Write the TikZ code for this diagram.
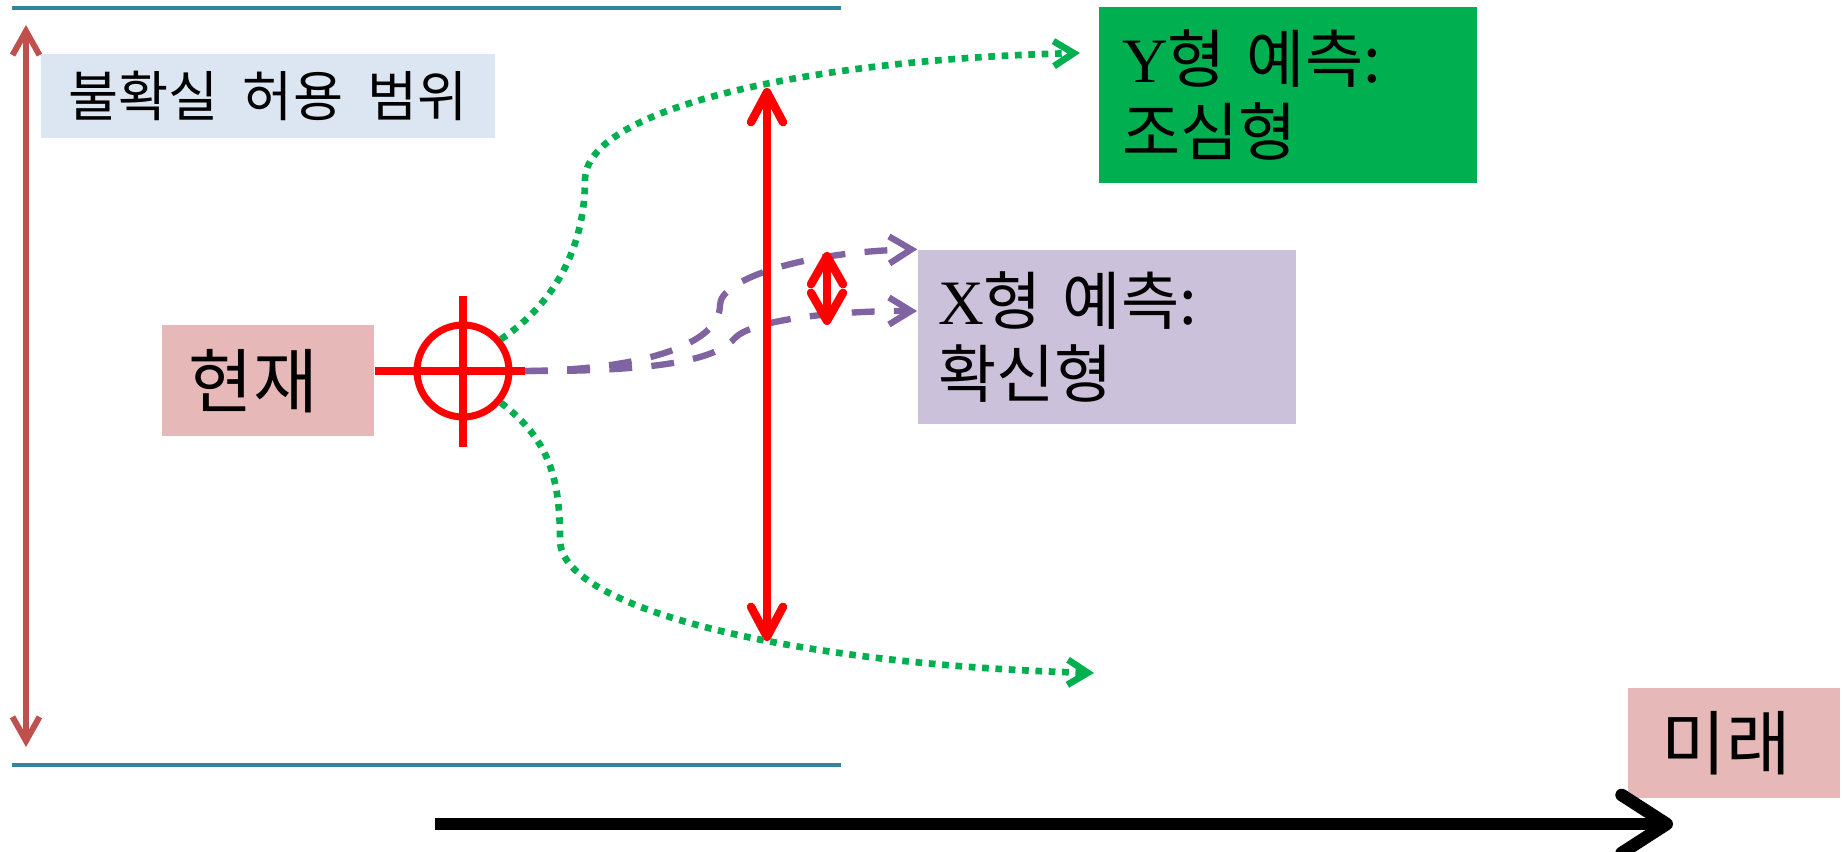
\documentclass[tikz,border=0pt]{standalone}
\usepackage{fontspec}
\setmainfont{Liberation Serif}
\newfontfamily\kr{Noto Sans CJK KR}[WordSpace=2]
\usepackage{tikz}
\usetikzlibrary{arrows.meta}
\definecolor{bandteal}{HTML}{31859C}
\definecolor{bandbrown}{HTML}{C0504D}
\definecolor{paleblue}{HTML}{DCE6F2}
\definecolor{palepink}{HTML}{E6B9B8}
\definecolor{ygreen}{HTML}{00B050}
\definecolor{xlilac}{HTML}{CCC1DA}
\definecolor{xpurple}{HTML}{8064A2}

\tikzset{
  panel/.style={inner sep=0pt,text=black},
  redline/.style={draw=red,line width=2pt},
  ypath/.style={draw=ygreen,line width=1.9pt,dash pattern=on 1.9pt off 1.9pt,-{Straight Barb[length=0.2cm,width=0.25cm]}},
  xpath/.style={draw=xpurple,line width=1.8pt,dash pattern=on 6.5pt off 5.5pt,-{Straight Barb[length=0.22cm,width=0.27cm]}}
}

\begin{document}
\begin{tikzpicture}[x=0.1mm,y=-0.1mm]
  \useasboundingbox (0,0) rectangle (1845,852);
  % band of tolerated uncertainty
  \draw[bandteal,line width=1.3pt] (12,8) -- (841,8);
  \draw[bandteal,line width=1.3pt] (12,765) -- (841,765);
  \coordinate (bandtop) at (26,25);
  \coordinate (bandbot) at (26,747);
  \draw[bandbrown,line width=1.7pt,{Straight Barb[length=0.24cm,width=0.27cm]}-{Straight Barb[length=0.24cm,width=0.27cm]}] (bandtop) -- (bandbot);
  \node[panel,fill=paleblue,minimum width=4.54cm,minimum height=0.84cm,font=\kr\fontsize{15.5}{18}\selectfont] (band) at (268,96) {불확실 허용 범위};

  % present and target
  \node[panel,fill=palepink,minimum width=2.12cm,minimum height=1.11cm,font=\kr\fontsize{20}{24}\selectfont] (now) at (268,381) {\hspace*{-0.3cm}현재};
  \node[draw=red,circle,line width=2pt,minimum size=0.92cm,inner sep=0pt] (target) at (463,371) {};
  \coordinate (hend) at (525,371);
  \draw[redline] (now.east |- target.center) -- (hend);
  \draw[redline] (463,296) -- (463,447);

  % forecasts
  \node[panel,fill=ygreen,minimum width=3.78cm,minimum height=1.76cm,text width=3.32cm,align=left,font=\kr\fontsize{18}{21}\selectfont] (ybox) at (1288,95) {{\rmfamily Y}형 예측:\\조심형};
  \node[panel,fill=xlilac,minimum width=3.78cm,minimum height=1.74cm,text width=3.38cm,align=left,font=\kr\fontsize{18}{21}\selectfont] (xbox) at (1107,337) {{\rmfamily X}형 예측:\\확신형};

  \coordinate (xlo) at (917,311);
  \draw[xpath] (hend) .. controls (640,370) and (720,345) .. (720,305) .. controls (720,280) and (800,252) .. (xbox.north west);
  \draw[xpath] (hend) .. controls (680,372) and (720,355) .. (735,338) .. controls (750,322) and (820,311) .. (xlo);

  \coordinate (spreadtop) at (767,88);
  \coordinate (spreadbot) at (767,641);
  \draw[red,line width=2.4pt,{Straight Barb[round,length=0.3cm,width=0.32cm]}-{Straight Barb[round,length=0.3cm,width=0.32cm]}] (spreadtop) -- (spreadbot);
  \coordinate (narrowtop) at (827,252);
  \coordinate (narrowbot) at (827,325);
  \draw[red,line width=2.4pt,{Straight Barb[round,length=0.28cm,width=0.32cm]}-{Straight Barb[round,length=0.28cm,width=0.32cm]}] (narrowtop) -- (narrowbot);

  \coordinate (yhi) at (1080,53);
  \coordinate (ylo) at (1094,673);
  \draw[ypath] (target.40) .. controls (560,300) and (585,240) .. (585,180) .. controls (585,110) and (800,60) .. (yhi);
  \draw[ypath] (target.-40) .. controls (550,440) and (560,480) .. (560,540) .. controls (560,610) and (800,665) .. (ylo);

  % future
  \node[panel,fill=palepink,minimum width=2.12cm,minimum height=1.10cm,font=\kr\fontsize{20}{24}\selectfont] (future) at (1734,743) {\hspace*{-0.15cm}미래};
  \coordinate (timestart) at (435,824);
  \coordinate (timeend) at (1673,824);
  \draw[black,line width=3.6pt,-{Straight Barb[round,length=0.45cm,width=0.58cm]}] (timestart) -- (timeend);
\end{tikzpicture}
\end{document}
